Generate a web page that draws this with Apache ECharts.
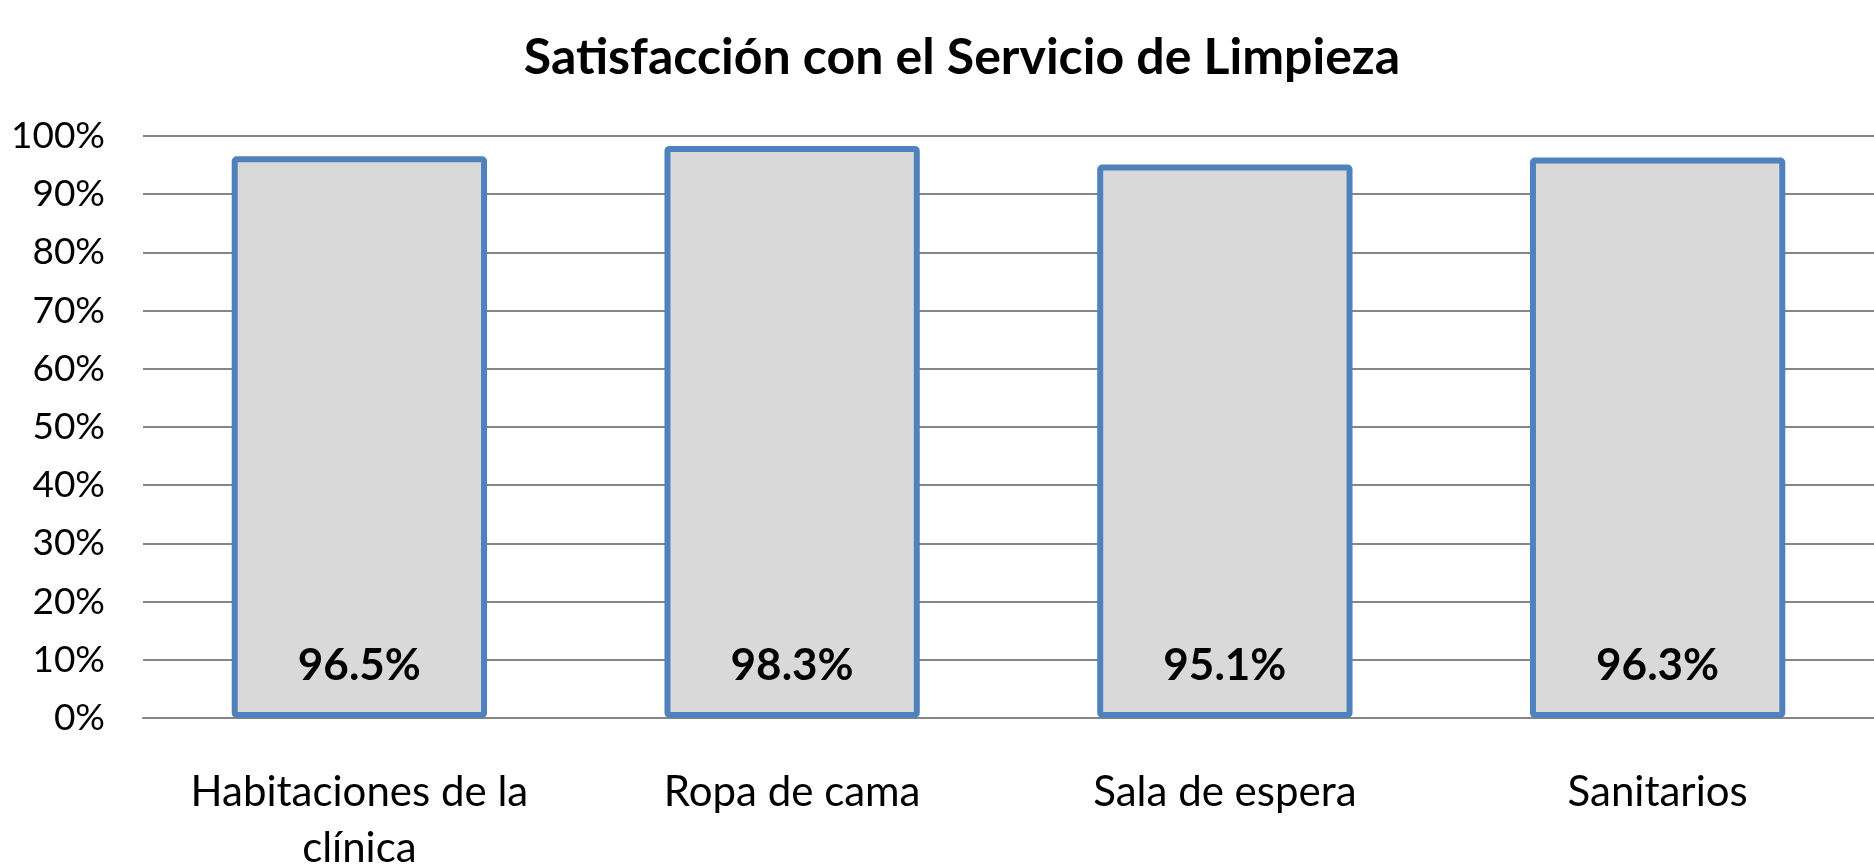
<!DOCTYPE html>
<html>
<head>
<meta charset="utf-8">
<title>Satisfacción con el Servicio de Limpieza</title>
<script src="https://cdn.jsdelivr.net/npm/echarts@6/dist/echarts.min.js"></script>
<style>
  html, body { margin: 0; padding: 0; background: #fff; }
  #chart { width: 1874px; height: 866px; }
</style>
</head>
<body>
<div id="chart"></div>
<script>
// datos
const categorias = ["Habitaciones de la\nclínica", "Ropa de cama", "Sala de espera", "Sanitarios"];
const satisfaccion = [96.5, 98.3, 95.1, 96.3];
const ticksY = { min: 0, max: 100, interval: 10 };

const FONT = "Lato, 'Open Sans', sans-serif";

const chart = echarts.init(document.getElementById("chart"));

chart.setOption({
  backgroundColor: "#ffffff",
  animation: false,
  title: {
    text: "Satisfacción con el Servicio de Limpieza",
    left: 957,
    textAlign: "center",
    top: 28,
    textStyle: { fontFamily: FONT, fontWeight: "bold", fontSize: 50, color: "#000" },
  },
  grid: { left: 143, right: 0, top: 136, bottom: 148, outerBoundsMode: "none" },
  xAxis: {
    type: "category",
    data: categorias,
    axisLine: { show: true, lineStyle: { color: "#868686", width: 2 } },
    axisTick: { show: false },
    axisLabel: {
      interval: 0,
      fontFamily: FONT,
      fontSize: 42,
      color: "#000",
      lineHeight: 56,
      margin: 46,
    },
  },
  yAxis: {
    type: "value",
    min: ticksY.min,
    max: ticksY.max,
    interval: ticksY.interval,
    axisLine: { show: false },
    axisTick: { show: false },
    axisLabel: {
      fontFamily: FONT,
      fontSize: 37,
      color: "#000",
      margin: 38,
      formatter: "{value}%",
    },
    splitLine: { lineStyle: { color: "#868686", width: 2 } },
  },
  series: [
    {
      type: "bar",
      data: satisfaccion,
      barWidth: "59%",
      itemStyle: {
        color: "#d9d9d9",
        borderColor: "#4f81bd",
        borderWidth: 6,
        borderRadius: 2,
      },
      label: {
        show: true,
        position: "insideBottom",
        distance: 30,
        fontFamily: FONT,
        fontWeight: "bold",
        fontSize: 44,
        color: "#000",
        formatter: (p) => p.value.toFixed(1) + "%",
      },
    },
  ],
});
</script>
</body>
</html>
